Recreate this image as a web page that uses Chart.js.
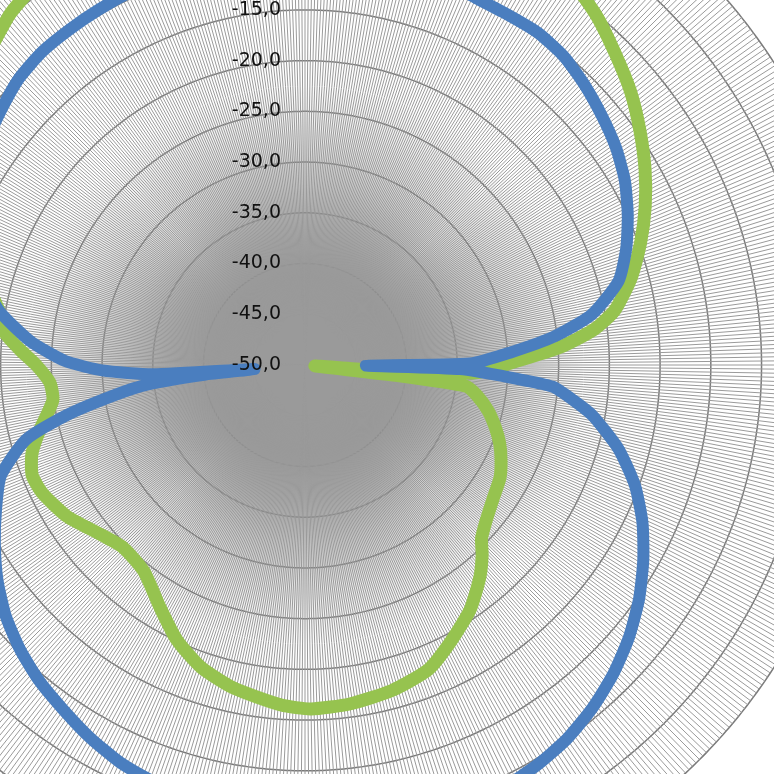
<!DOCTYPE html>
<html>
<head>
<meta charset="utf-8">
<title>Diagrama de radiação</title>
<script src="https://cdn.jsdelivr.net/npm/chart.js@4.4.1/dist/chart.umd.min.js"></script>
<style>
    html, body { margin: 0; padding: 0; background: #fff; overflow: hidden; width: 774px; height: 774px; }
    /* the chart is bigger than the window: only part of it is seen, like the reference */
    #box { position: absolute; left: -253px; top: -193px; width: 1116px; height: 1116px; }
</style>
</head>
<body>
<div id="box"><canvas id="polar"></canvas></div>
<script>
//--- categories: one direction every half degree
var stepDeg = 0.5;
var categories = [];
for (var i = 0; i < 720; i++) categories.push(i * stepDeg);

//--- series 1 (blue): angle (deg) / level (dB)
var blueAngles = [0, 10, 20, 25, 30, 35, 40, 45, 50, 55, 60, 65, 70, 75, 80, 83.5, 86.5, 89.5, 90.5, 91.5,
    93.5, 95, 97.5, 100, 105, 110, 115, 120, 125, 130, 135, 140, 145, 150, 155, 160, 165, 170, 175, 180,
    185, 190, 195, 200, 205, 210, 215, 220, 225, 230, 235, 240, 245, 250, 255, 258, 261, 263, 264.5, 265.5,
    266.5, 268.5, 271, 275, 280, 285, 290, 295, 300, 305, 310, 315, 320, 325, 330, 335, 340, 350];
var blueValues = [-9.2, -9.4, -9.8, -10.1, -10.1, -10.0, -10.3, -11.0, -11.8, -12.6, -13.6, -14.9, -16.3, -18.0, -21.3, -25.3, -29.7, -33.7, -44, -34.7,
    -29.7, -25.5, -23.3, -21.2, -18.0, -15.4, -13.3, -11.5, -9.8, -8.3, -7.0, -5.9, -5.0, -4.4, -4.0, -3.9, -3.8, -3.9, -4.1, -4.4,
    -4.8, -5.3, -5.8, -6.3, -6.8, -7.6, -8.5, -9.3, -10.3, -11.5, -13.0, -14.7, -16.4, -18.1, -21.5, -25.8, -31, -34.5, -40, -45,
    -35, -30, -26.3, -22.8, -19.4, -17.0, -15.2, -13.8, -12.6, -11.7, -10.9, -10.1, -9.7, -9.6, -9.5, -9.4, -9.3, -9.2];

//--- series 2 (green)
var greenAngles = [0, 10, 20, 30, 35, 40, 45, 50, 55, 60, 65, 70, 75, 80, 83, 86, 89.5, 92.5, 93.5, 94.5,
    95.5, 96.5, 97.5, 100, 104, 108, 112, 116, 120, 125, 128, 131, 134.5, 137, 140.5, 146, 152.5, 158, 165, 172.5,
    179, 184, 192.5, 199, 205, 211, 218, 225, 231, 237.5, 244, 248, 252, 256, 262, 266, 270, 273, 276, 280,
    285, 290, 295, 300, 305, 310, 315, 320, 325, 330, 340, 350];
var greenValues = [-2.2, -2.4, -2.8, -3.5, -4.0, -5.2, -6.7, -8.1, -9.7, -11.3, -13.0, -14.8, -16.7, -19.0, -21.3, -24.8, -29.8, -33, -38, -44,
    -49, -41, -34, -32.8, -31.4, -30.3, -29.3, -28.5, -27.8, -27.3, -26.9, -26.4, -25.6, -24.4, -22.9, -20.9, -19.1, -17.6, -16.8, -16.3,
    -16.1, -16.4, -17.4, -18.5, -20.1, -22.2, -24.2, -24.6, -23.7, -22.2, -21.2, -21.0, -21.7, -23.0, -24.9, -24.8, -23.5, -21.9, -20.3, -19.4,
    -17.3, -14.8, -12.4, -10.3, -8.6, -7.2, -6.1, -4.8, -4.0, -3.4, -2.8, -2.4];

//--- value axis
var tickValues = [-50, -45, -40, -35, -30, -25, -20, -15, -10, -5, 0, 5];
var tickLabels = ['-50,0', '-45,0', '-40,0', '-35,0', '-30,0', '-25,0', '-20,0', '-15,0', '-10,0', '-5,0', '0,0', '5,0'];

// put the read points on their direction, other directions stay empty
function toSeries(angles, values) {
    var out = categories.map(function () { return null; });
    angles.forEach(function (a, k) {
        out[Math.round(a / stepDeg)] = values[k];
    });
    return out;
}

// the 720 spokes melt into grey near the centre
var centreShade = {
    id: 'centreShade',
    beforeDraw: function (chart) {
        var r = chart.scales.r;
        var ctx = chart.ctx;
        var g = ctx.createRadialGradient(r.xCenter, r.yCenter, 0, r.xCenter, r.yCenter, r.drawingArea);
        g.addColorStop(0, 'rgba(136,136,136,1)');
        g.addColorStop(0.16, 'rgba(136,136,136,0.9)');
        g.addColorStop(0.32, 'rgba(136,136,136,0.35)');
        g.addColorStop(0.5, 'rgba(136,136,136,0)');
        ctx.save();
        ctx.fillStyle = g;
        ctx.beginPath();
        ctx.arc(r.xCenter, r.yCenter, r.drawingArea, 0, Math.PI * 2);
        ctx.fill();
        ctx.restore();
    }
};

// Excel-like labels, left of the vertical axis
var axisLabels = {
    id: 'axisLabels',
    afterDatasetsDraw: function (chart) {
        var r = chart.scales.r;
        var ctx = chart.ctx;
        ctx.save();
        ctx.font = '19px "DejaVu Sans"';
        ctx.fillStyle = '#111';
        ctx.textAlign = 'right';
        ctx.textBaseline = 'middle';
        tickValues.forEach(function (v, k) {
            var y = r.yCenter - r.getDistanceFromCenterForValue(v);
            ctx.fillText(tickLabels[k], r.xCenter - 24, y);
        });
        ctx.restore();
    }
};

var chart = new Chart(document.getElementById('polar'), {
    type: 'radar',
    data: {
        labels: categories,
        datasets: [{
            label: 'Série 1',
            data: toSeries(blueAngles, blueValues),
            borderColor: '#4a7ebf',
            borderWidth: 12,
            pointRadius: 0,
            fill: false,
            spanGaps: true,
            tension: 0.2,
            borderJoinStyle: 'round',
            borderCapStyle: 'round'
        }, {
            label: 'Série 2',
            data: toSeries(greenAngles, greenValues),
            borderColor: '#96c34f',
            borderWidth: 13,
            pointRadius: 0,
            fill: false,
            spanGaps: true,
            tension: 0.2,
            borderJoinStyle: 'round',
            borderCapStyle: 'round'
        }]
    },
    options: {
        responsive: true,
        maintainAspectRatio: false,
        animation: false,
        plugins: {
            legend: { display: false },
            tooltip: { enabled: false }
        },
        scales: {
            r: {
                min: -50,
                max: 5,
                ticks: { stepSize: 5, display: false },
                pointLabels: { display: false },
                angleLines: { color: '#9a9a9a', lineWidth: 1 },
                grid: { color: '#7a7a7a', lineWidth: 1.5 }
            }
        }
    },
    plugins: [centreShade, axisLabels]
});
</script>
</body>
</html>
